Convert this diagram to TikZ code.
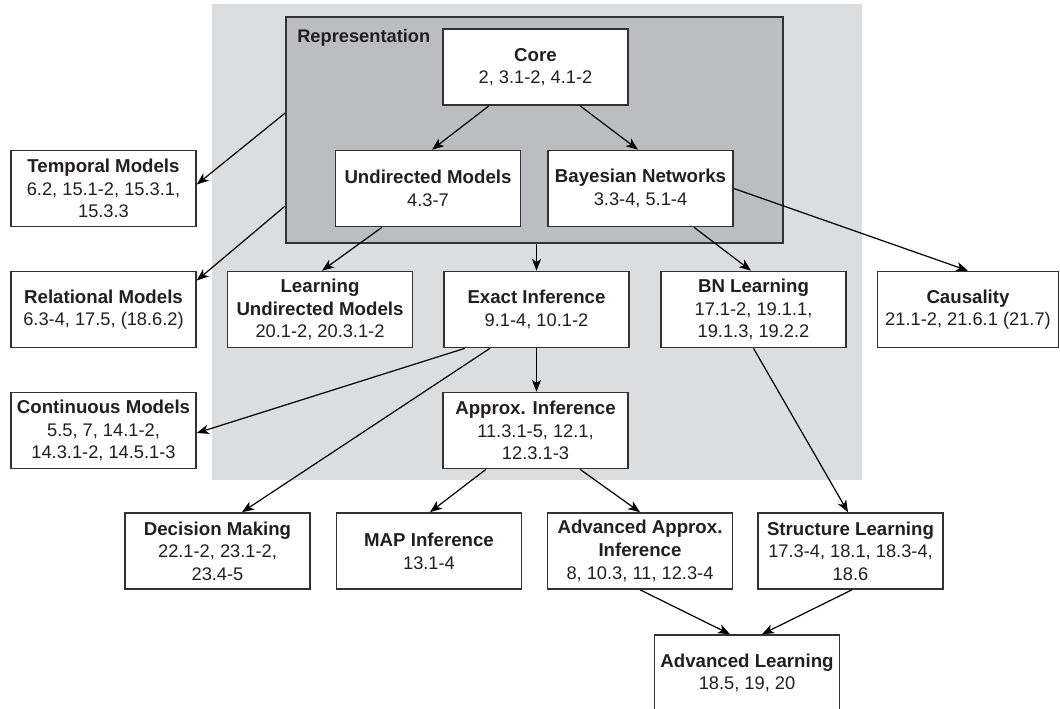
\documentclass[tikz,border=0pt]{standalone}
\usepackage{fontspec}
\setmainfont{Liberation Sans}
\usetikzlibrary{arrows.meta,calc}
\definecolor{bglight}{RGB}{220,221,223}
\definecolor{bgdark}{RGB}{188,189,192}
\definecolor{edge}{RGB}{50,50,50}
\definecolor{ink}{RGB}{35,31,32}
\newcommand{\hd}[1]{{\bfseries\fontsize{14}{17}\selectfont #1}}
\tikzset{
  box/.style={draw=edge, line width=1.2pt, fill=white, minimum width=138.75pt, minimum height=57pt,
    align=center, inner sep=2pt, text=ink, font=\fontsize{13.7}{17}\selectfont},
  arr/.style={draw=black, line width=0.9pt, -{Stealth[length=9pt,width=7pt,inset=2.5pt]}},
}
\begin{document}
\begin{tikzpicture}[x=0.75pt,y=-0.75pt]
\useasboundingbox (0,0) rectangle (1060,709);
\clip (0,0) rectangle (1060,709);
% backgrounds
\fill[bglight] (212,4) rectangle (862,480);
\node[draw=edge, line width=1.2pt, fill=bgdark, minimum width=372.75pt, minimum height=169.5pt, inner sep=0pt] (rep) at (534.5,130) {};
\node[anchor=base west, inner sep=0pt, text=ink, font=\bfseries\fontsize{13.7}{16}\selectfont] (replabel) at (297,43) {Representation};
% nodes
\node[box] (core) at (535.5,67) {\hd{Core}\\2, 3.1-2, 4.1-2};
\node[box] (undir) at (428,188.5) {\hd{Undirected Models}\\4.3-7};
\node[box] (bayes) at (640.5,188.5) {\hd{Bayesian Networks}\\3.3-4, 5.1-4};
\node[box] (temporal) at (103.5,188.5) {\hd{Temporal Models}\\6.2, 15.1-2, 15.3.1,\\15.3.3};
\node[box] (relational) at (103.5,309.5) {\hd{Relational Models}\\6.3-4, 17.5, (18.6.2)};
\node[box] (lum) at (320,309.5) {\hd{Learning}\\\hd{Undirected Models}\\20.1-2, 20.3.1-2};
\node[box] (exact) at (536.5,309.5) {\hd{Exact Inference}\\9.1-4, 10.1-2};
\node[box] (bnl) at (753.5,309.5) {\hd{BN Learning}\\17.1-2, 19.1.1,\\19.1.3, 19.2.2};
\node[box, minimum width=135.75pt] (causal) at (968,309.5) {\hd{Causality}\\21.1-2, 21.6.1 (21.7)};
\node[box] (cont) at (103.5,430.5) {\hd{Continuous Models}\\5.5, 7, 14.1-2,\\14.3.1-2, 14.5.1-3};
\node[box] (approx) at (535.5,430.5) {\hd{Approx. Inference}\\11.3.1-5, 12.1,\\12.3.1-3};
\node[box] (decision) at (217.5,551) {\hd{Decision Making}\\22.1-2, 23.1-2,\\23.4-5};
\node[box] (map) at (429,551) {\hd{MAP Inference}\\13.1-4};
\node[box] (advapprox) at (640,551) {\hd{Advanced Approx.}\\\hd{Inference}\\8, 10.3, 11, 12.3-4};
\node[box] (struct) at (850.5,551) {\hd{Structure Learning}\\17.3-4, 18.1, 18.3-4,\\18.6};
\node[box] (advlearn) at (747,673) {\hd{Advanced Learning}\\18.5, 19, 20};
% connectors
\draw[arr] ($(core.south)+(-46.5,0)$) -- ($(undir.north)+(4,0)$);
\draw[arr] ($(core.south)+(44.5,0)$) -- ($(bayes.north)+(-2.5,0)$);
\draw[arr] ($(rep.west)+(0,-17)$) -- ($(temporal.east)+(0,-4)$);
\draw[arr] ($(rep.west)+(0,76)$) -- ($(relational.east)+(0,-29)$);
\draw[arr] ($(undir.south)+(-46,0)$) -- ($(lum.north)+(2,0)$);
\draw[arr] (exact.north |- rep.south) -- (exact.north);
\draw[arr] ($(bayes.south)+(53.5,0)$) -- ($(bnl.north)+(-2.5,0)$);
\draw[arr] (bayes.east) -- (causal.north);
\draw[arr] (exact.south) -- (exact.south |- approx.north);
\draw[arr] ($(exact.south)+(-71.5,0)$) -- ($(cont.east)+(0,2.5)$);
\draw[arr] ($(exact.south)+(-46.5,0)$) -- ($(decision.north)+(24.5,0)$);
\draw[arr] ($(approx.south)+(-49.5,0)$) -- ($(map.north)+(1,0)$);
\draw[arr] ($(approx.south)+(44.5,0)$) -- (advapprox.north);
\draw[arr] (bnl.south) -- ($(struct.north)+(-2.5,0)$);
\draw[arr] (advapprox.south) -- ($(advlearn.north)+(-17,0)$);
\draw[arr] ($(struct.south)+(1.5,0)$) -- ($(advlearn.north)+(15,0)$);
\end{tikzpicture}
\end{document}
